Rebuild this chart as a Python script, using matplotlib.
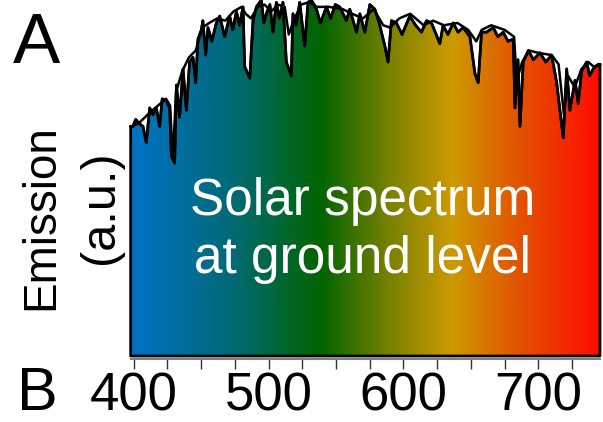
import numpy as np
import matplotlib.pyplot as plt
from matplotlib.colors import LinearSegmentedColormap

plt.rcParams['font.family'] = ['Liberation Sans', 'DejaVu Sans']

# Solar spectrum at ground level (wavelength in nm, emission in a.u.)
wavelength = [397.8, 399.5, 401.5, 404.5, 406.9, 409.4, 411.9, 414.3, 416.8, 419.3, 421.2,
              424.3, 426.7, 428.0, 430.4, 431.7, 434.1, 436.6, 439.1, 441.5, 444.0,
              446.0, 447.7, 450.2, 451.3, 453.4, 455.1, 458.0, 461.3, 463.8, 467.5, 471.2,
              473.5, 476.2, 478.5, 481.1, 482.3, 486.1, 488.5, 491.0, 494.7, 496.5, 498.4,
              501.0, 503.3, 505.8, 508.0, 510.7, 513.2, 516.9, 518.1, 520.5, 523.1, 526.8,
              529.3, 531.8, 535.5, 538.5, 542.9, 546.0, 549.5, 552.8, 557.7, 560.2, 565.2,
              567.7, 571.4, 575.1, 578.8, 582.0, 586.2, 588.6, 591.1, 594.8, 599.0, 604.7,
              609.0, 613.4, 617.1, 620.8, 627.0, 629.4, 633.0, 636.9, 640.5, 644.3, 649.3,
              653.0, 655.4, 657.9, 661.6, 666.6, 670.0, 674.0, 677.5, 681.4, 682.7, 684.9,
              686.4, 688.8, 692.6, 696.3, 701.2, 705.5, 709.9, 713.6, 716.0, 718.5, 721.0,
              723.4, 727.2, 729.6, 732.1, 735.8, 738.0, 740.7, 744.5, 745.7]
emission = [1.00, 1.00, 1.03, 1.01, 1.00, 0.93, 1.08, 1.05, 1.08, 1.00, 1.12,
            1.11, 1.08, 0.87, 0.84, 1.18, 1.04, 1.25, 1.07, 1.28, 1.30,
            1.19, 1.38, 1.42, 1.46, 1.31, 1.43, 1.37, 1.45, 1.48, 1.39, 1.48,
            1.42, 1.50, 1.44, 1.52, 1.26, 1.21, 1.46, 1.52, 1.55, 1.45, 1.49,
            1.53, 1.41, 1.54, 1.47, 1.54, 1.28, 1.22, 1.49, 1.44, 1.54, 1.35,
            1.54, 1.55, 1.51, 1.45, 1.52, 1.47, 1.53, 1.52, 1.46, 1.51, 1.41,
            1.49, 1.41, 1.53, 1.51, 1.45, 1.35, 1.28, 1.46, 1.45, 1.40, 1.48,
            1.44, 1.41, 1.46, 1.45, 1.36, 1.44, 1.40, 1.45, 1.41, 1.43, 1.39,
            1.23, 1.19, 1.41, 1.41, 1.43, 1.39, 1.41, 1.37, 1.38, 1.08, 1.29,
            1.00, 1.28, 1.33, 1.29, 1.32, 1.28, 1.31, 1.19, 1.07, 0.95, 1.25,
            1.07, 1.20, 1.10, 1.24, 1.28, 1.22, 1.25, 1.27, 1.27]

# smoother (lower resolution) spectrum drawn over it
wl_smooth = [399.5, 405, 412, 418, 424, 427, 429, 431.5, 436, 441, 446, 451, 456, 462,
             468, 474, 480, 483, 487, 492, 497, 502, 507, 512, 515, 518, 524, 530,
             536, 545, 555, 562, 570, 578, 585, 590, 597, 605, 615, 622, 630, 640,
             648, 654, 658, 665, 675, 682, 684, 688, 693, 700, 710, 715, 719, 722,
             727, 732, 737, 741, 745.7]
em_smooth = [1.00, 1.02, 1.06, 1.09, 1.12, 1.09, 0.86, 1.15, 1.24, 1.30, 1.33, 1.43, 1.45, 1.47,
             1.46, 1.50, 1.52, 1.49, 1.47, 1.52, 1.53, 1.50, 1.53, 1.52, 1.40, 1.45, 1.53, 1.54,
             1.52, 1.52, 1.51, 1.49, 1.47, 1.51, 1.44, 1.43, 1.47, 1.49, 1.44, 1.46, 1.44, 1.45,
             1.42, 1.37, 1.42, 1.44, 1.42, 1.39, 1.20, 1.28, 1.33, 1.32, 1.31, 1.27, 1.05, 1.22,
             1.17, 1.25, 1.28, 1.26, 1.27]

# colour of the fill along the wavelength axis
grad_nm = [397.8, 470, 538, 590, 636, 680, 745.7]
grad_colors = ['#0072c6', '#006a78', '#006400', '#7a8200', '#cd9a00', '#e05a00', '#ff0a00']

fig = plt.figure(figsize=(6.03, 4.22), dpi=100)
ax = fig.add_axes([0.2167, 0.1493, 0.7783, 0.8507])

x0, x1 = wavelength[0], wavelength[-1]
ax.set_xlim(x0, x1)
ax.set_ylim(-0.013, 1.55)

pos = [(v - x0) / (x1 - x0) for v in grad_nm]
cmap = LinearSegmentedColormap.from_list('spec', list(zip(pos, grad_colors)))
grad = np.linspace(0, 1, 512).reshape(1, -1)
img = ax.imshow(grad, cmap=cmap, aspect='auto', extent=[x0, x1, 0, 1.6], zorder=1)

poly = ax.fill_between(wavelength, 0, emission, facecolor='none', edgecolor='black',
                       linewidth=2, zorder=3, clip_on=False)
img.set_clip_path(poly.get_paths()[0], transform=ax.transData)

ax.plot(wl_smooth, em_smooth, color='black', lw=1.8, zorder=4, clip_on=False)
ax.plot(wavelength, emission, color='black', lw=1.8, zorder=4, clip_on=False)

ax.text(570, 0.614, 'Solar spectrum', color='white', fontsize=37,
        ha='center', va='baseline', zorder=5)
ax.text(570, 0.361, 'at ground level', color='white', fontsize=37,
        ha='center', va='baseline', zorder=5)

for s in ['top', 'right', 'left']:
    ax.spines[s].set_visible(False)
ax.spines['bottom'].set_color('#808080')
ax.spines['bottom'].set_linewidth(1.5)
ax.set_yticks([])
ax.set_xticks([400, 500, 600, 700])
ax.set_xticks(np.arange(425, 750, 25), minor=True)
ax.tick_params(axis='x', which='both', length=7, width=1, color='#333333',
               labelsize=38, pad=2)

fig.text(0.060, 1 - 63 / 422, 'A', fontsize=51, ha='center', va='baseline')
fig.text(0.062, 1 - 410 / 422, 'B', fontsize=44, ha='center', va='baseline')
fig.text(0.068, 0.485, 'Emission', fontsize=33, rotation=90, ha='center', va='center')
fig.text(0.166, 0.51, '(a.u.)', fontsize=35, rotation=90, ha='center', va='center')

fig.savefig('out.png', dpi=100)
